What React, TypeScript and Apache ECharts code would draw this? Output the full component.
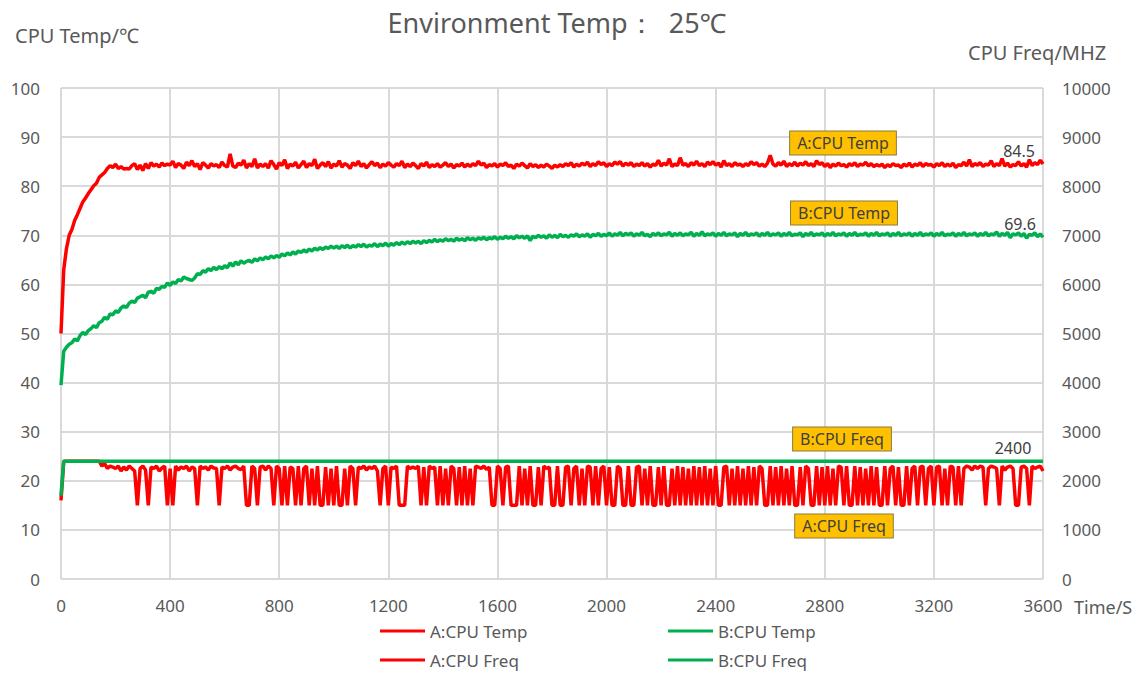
import React, { useEffect, useRef } from "react";
import * as echarts from "echarts";

// Sampling step of the recorded data, seconds
const SAMPLE_STEP = 10;

const xTicks = { min: 0, max: 3600, interval: 400 };

// A: CPU temperature (°C), every 10 s from 0 to 3600 s
const aTemp: number[] = [
  50, 63, 67.3, 70, 71.2, 73, 74.2, 75.5, 76.8, 77.6,
  78.5, 79.3, 80.1, 80.6, 81.8, 82.3, 82.8, 83.6, 84.2, 83.8,
  84.5, 83.6, 84.0, 83.5, 83.6, 83.5, 84.2, 84.6, 83.4, 84.3,
  83.2, 84.6, 83.6, 84.8, 84.1, 84.5, 83.9, 84.7, 84.2, 84.5,
  84.3, 85.1, 83.8, 84.6, 84.3, 83.6, 84.9, 84.2, 85.2, 84.0,
  84.6, 83.4, 84.8, 84.3, 83.7, 84.6, 84.1, 84.4, 83.8, 84.9,
  84.2, 83.9, 86.6, 84.1, 83.8, 84.7, 84.3, 85.3, 83.7, 84.6,
  84.0, 85.6, 83.7, 84.5, 84.0, 84.6, 83.7, 85.2, 84.4, 83.5,
  84.8, 84.2, 85.4, 83.6, 84.5, 84.1, 84.9, 83.7, 84.4, 85.1,
  83.8, 84.6, 84.2, 85.5, 83.6, 84.3, 84.8, 84.0, 85.0, 83.7,
  84.5, 84.1, 85.2, 83.9, 84.6, 84.3, 83.6, 84.8, 84.2, 85.1,
  84.0, 84.6, 83.7, 84.4, 85.0, 84.2, 84.7, 83.8, 84.5, 84.1,
  84.8, 84.3, 83.9, 84.6, 84.2, 85.1, 83.8, 84.5, 84.0, 84.7,
  84.2, 83.6, 84.6, 84.1, 84.9, 83.8, 84.4, 84.0, 84.6, 83.9,
  84.3, 84.8, 84.0, 84.5, 83.7, 84.4, 84.1, 84.7, 83.9, 84.5,
  84.0, 84.6, 84.2, 85.1, 84.3, 84.7, 83.8, 84.4, 84.1, 84.6,
  83.9, 84.5, 84.2, 84.8, 84.0, 84.3, 83.6, 84.5, 84.1, 84.7,
  84.2, 83.7, 84.6, 84.0, 84.4, 83.8, 84.3, 83.9, 84.5, 84.1,
  83.6, 84.3, 83.9, 84.4, 84.0, 84.6, 84.2, 84.8, 83.9, 84.5,
  84.1, 84.7, 84.3, 84.9, 84.0, 84.6, 84.2, 85.0, 84.4, 84.8,
  84.0, 84.6, 84.2, 84.9, 84.5, 85.0, 84.1, 84.7, 84.3, 84.8,
  84.0, 84.5, 84.2, 84.8, 84.1, 84.6, 83.9, 84.5, 84.2, 85.3,
  84.1, 84.7, 84.3, 85.6, 84.0, 84.5, 84.2, 85.8, 84.3, 84.6,
  84.0, 84.8, 84.3, 85.1, 84.2, 84.6, 84.0, 84.9, 84.4, 85.0,
  84.3, 84.7, 83.9, 85.2, 84.2, 84.6, 84.0, 84.8, 84.3, 84.5,
  84.0, 84.6, 84.2, 85.0, 84.4, 84.8, 84.1, 84.5, 84.0, 84.7,
  86.3, 84.5, 84.1, 84.8, 84.3, 85.1, 84.0, 84.6, 84.2, 84.9,
  84.1, 84.7, 84.3, 85.0, 84.2, 84.6, 84.0, 85.2, 84.4, 84.8,
  84.0, 84.6, 83.8, 84.5, 84.1, 84.7, 84.2, 84.4, 83.9, 84.6,
  84.2, 84.8, 84.0, 84.5, 84.3, 84.9, 84.1, 84.6, 84.0, 84.4,
  84.1, 84.5, 83.8, 84.4, 84.0, 84.6, 84.2, 84.3, 83.8, 84.5,
  84.1, 84.7, 83.9, 84.5, 84.2, 84.8, 84.0, 84.6, 84.3, 84.4,
  83.9, 84.6, 84.2, 84.8, 84.0, 84.5, 84.1, 84.7, 83.8, 84.4,
  84.2, 84.9, 84.1, 85.4, 84.0, 84.6, 84.3, 84.8, 84.0, 84.5,
  84.3, 85.2, 84.0, 84.6, 84.2, 85.6, 84.1, 84.7, 83.9, 84.4,
  84.2, 85.0, 84.1, 84.6, 83.9, 85.4, 84.2, 84.8, 84.4, 85.3,
  84.5,
];

// B: CPU temperature (°C), every 10 s from 0 to 3600 s
const bTemp: number[] = [
  39.5, 46.4, 47.2, 47.8, 48.1, 48.9, 48.5, 49.6, 50.2, 49.8,
  50.6, 51.0, 51.6, 51.2, 52.2, 52.5, 53.3, 52.9, 54.0, 53.8,
  54.6, 54.3, 55.2, 55.6, 55.3, 56.2, 56.6, 56.3, 57.2, 57.5,
  57.8, 57.3, 58.4, 58.6, 58.2, 59.2, 59.0, 59.6, 59.4, 60.3,
  59.8, 60.5, 60.2, 61.0, 60.7, 61.5, 61.2, 61.0, 60.8, 61.3,
  62.2, 62.0, 62.8, 62.5, 63.2, 62.8, 63.5, 63.0, 63.6, 63.2,
  63.8, 63.4, 64.4, 63.7, 64.6, 64.0, 64.8, 64.3, 64.7, 64.9,
  64.5, 65.2, 64.8, 65.4, 65.0, 65.6, 65.2, 65.8, 65.4, 65.9,
  65.5, 66.2, 65.8, 66.4, 66.0, 66.6, 66.2, 66.8, 66.5, 67.0,
  66.6, 67.2, 66.8, 67.4, 67.0, 67.5, 67.1, 67.6, 67.3, 67.8,
  67.4, 67.8, 67.3, 67.9, 67.5, 68.0, 67.4, 67.9, 67.6, 68.1,
  67.7, 68.2, 67.6, 68.0, 67.8, 68.3, 67.7, 68.2, 67.9, 68.4,
  67.8, 68.3, 68.0, 68.5, 68.1, 68.6, 68.2, 68.7, 68.3, 68.8,
  68.4, 68.8, 68.3, 68.9, 68.5, 69.0, 68.6, 69.2, 68.7, 69.1,
  68.8, 69.3, 68.9, 69.2, 68.8, 69.4, 69.0, 69.3, 68.9, 69.5,
  69.1, 69.4, 69.0, 69.5, 69.2, 69.6, 69.1, 69.5, 69.3, 69.7,
  69.2, 69.6, 69.3, 69.8, 69.4, 69.7, 69.3, 69.9, 69.5, 69.8,
  69.4, 69.9, 68.9, 69.8, 69.5, 70.0, 69.6, 69.9, 69.4, 70.1,
  69.6, 70.0, 69.5, 70.2, 69.7, 70.0, 69.6, 70.1, 69.8, 70.3,
  69.7, 70.1, 69.8, 70.3, 69.6, 70.2, 69.9, 70.4, 69.8, 70.2,
  69.9, 70.5, 69.8, 70.3, 70.0, 70.6, 69.9, 70.4, 70.1, 70.5,
  69.8, 70.3, 70.0, 70.6, 69.9, 70.2, 69.7, 70.4, 70.0, 70.5,
  69.9, 70.3, 70.1, 70.6, 69.8, 70.4, 70.0, 70.5, 69.9, 70.3,
  70.1, 70.6, 69.8, 70.4, 70.0, 70.7, 69.9, 70.3, 70.1, 70.5,
  69.8, 70.4, 70.0, 70.6, 69.9, 70.3, 70.1, 70.5, 69.7, 70.4,
  70.0, 70.6, 69.9, 70.3, 70.1, 70.5, 69.8, 70.4, 70.0, 70.6,
  69.9, 70.3, 70.1, 70.5, 69.8, 70.4, 70.0, 70.6, 69.9, 70.2,
  70.1, 70.5, 69.7, 70.4, 70.0, 70.6, 69.9, 70.3, 70.1, 70.5,
  69.8, 70.4, 70.0, 70.6, 69.9, 70.3, 70.1, 70.5, 69.8, 70.4,
  70.0, 70.6, 69.9, 70.2, 70.1, 70.5, 69.8, 70.4, 70.0, 70.6,
  69.9, 70.3, 70.1, 70.5, 69.8, 70.4, 70.0, 70.6, 69.9, 70.3,
  70.1, 70.5, 69.8, 70.4, 70.0, 70.6, 69.9, 70.3, 70.1, 70.5,
  69.8, 70.4, 70.0, 70.6, 69.9, 70.2, 70.1, 70.5, 69.8, 70.4,
  70.0, 70.6, 69.9, 70.3, 70.1, 70.5, 69.8, 70.4, 70.0, 70.6,
  69.9, 70.3, 70.1, 70.7, 69.8, 70.4, 70.0, 70.6, 69.5, 70.3,
  70.1, 70.5, 69.8, 70.4, 69.4, 70.2, 70.0, 70.5, 69.7, 70.3,
  69.6,
];

// A: CPU frequency (MHz), every 10 s from 0 to 3600 s
const aFreq: number[] = [
  1600, 2400, 2400, 2400, 2400, 2400, 2400, 2400, 2400, 2400,
  2400, 2400, 2400, 2400, 2400, 2300, 2350, 2250, 2300, 2280,
  2250, 2300, 2200, 2280, 2220, 2300, 2250, 2200, 1500, 2250,
  2300, 2220, 1500, 2280, 2250, 2300, 2200, 2260, 2300, 1500,
  2250, 1500, 2300, 2220, 2280, 2250, 2300, 2200, 2280, 2250,
  1500, 2300, 2250, 2280, 2220, 2300, 2260, 2250, 1500, 2280,
  2250, 2300, 2220, 2280, 2300, 2250, 2230, 2300, 1500, 1500,
  2300, 2250, 1500, 2280, 2300, 2220, 2300, 2250, 1500, 2300,
  2250, 1500, 2300, 1500, 2280, 2250, 1500, 2300, 1500, 2250,
  2300, 1500, 2250, 1500, 2300, 1500, 1500, 2280, 1500, 2250,
  1500, 2300, 1500, 1500, 2250, 1500, 2300, 2250, 1500, 2280,
  2250, 2300, 2220, 2280, 2250, 2300, 2200, 1500, 2250, 2300,
  1500, 2280, 2250, 2300, 1500, 1500, 1500, 2300, 2250, 2280,
  2250, 2300, 1500, 2280, 1500, 2300, 2250, 2280, 1500, 2300,
  1500, 2250, 1500, 2300, 2250, 1500, 2280, 1500, 2300, 1500,
  2250, 1500, 2300, 2280, 2250, 2300, 2230, 2280, 1500, 1500,
  2300, 2250, 1500, 2280, 2300, 1500, 1500, 1500, 2300, 1500,
  2250, 1500, 2300, 1500, 1500, 2280, 1500, 2300, 2250, 2280,
  1500, 1500, 2300, 1500, 1500, 2280, 2300, 1500, 2250, 2300,
  1500, 2250, 1500, 2300, 2280, 1500, 2300, 1500, 2250, 2300,
  1500, 2280, 1500, 1500, 2300, 2250, 1500, 1500, 2300, 1500,
  1500, 2280, 2300, 1500, 2250, 1500, 2300, 1500, 1500, 2280,
  1500, 2300, 1500, 1500, 2250, 1500, 2300, 1500, 2280, 1500,
  2250, 1500, 2300, 1500, 2280, 1500, 2300, 1500, 2250, 1500,
  2300, 1500, 1500, 2280, 2300, 1500, 2250, 1500, 2300, 1500,
  2250, 1500, 2300, 1500, 2280, 1500, 2300, 2250, 1500, 1500,
  2300, 1500, 2280, 1500, 2300, 1500, 2250, 1500, 2300, 1500,
  1500, 2280, 1500, 2300, 2250, 1500, 1500, 2300, 1500, 2280,
  1500, 2300, 1500, 2250, 1500, 2300, 2280, 1500, 2300, 1500,
  1500, 2300, 1500, 2280, 1500, 2250, 1500, 2300, 1500, 2280,
  1500, 1500, 2300, 1500, 2250, 2300, 1500, 2280, 1500, 1500,
  2300, 1500, 2250, 2300, 1500, 2280, 2300, 1500, 2250, 2300,
  1500, 2280, 2300, 1500, 2250, 1500, 2300, 2280, 1500, 2300,
  1500, 2250, 2300, 2280, 2220, 2300, 2250, 2300, 2280, 1500,
  2250, 2300, 2280, 2250, 1500, 2300, 2220, 2280, 2300, 2250,
  1500, 1500, 2280, 2300, 2250, 1500, 2300, 2250, 2280, 2300,
  2200,
];

// B: CPU frequency (MHz): fixed after start-up
const bFreqTimes: number[] = [0, 10, 3600];
const bFreq: number[] = [1700, 2400, 2400];

const seriesNames = ["A:CPU Temp", "B:CPU Temp", "A:CPU Freq", "B:CPU Freq"];
const RED = "#FF0000";
const GREEN = "#00B050";
const TEXT = "#595959";
const FONT = "'Noto Sans', 'Open Sans', sans-serif";

const pairs = (vals: number[]) => vals.map((v, i) => [i * SAMPLE_STEP, v]);
const plain = (v: number) => String(v);

const lastLabel = (t: number, v: number, offset: number[]) => ({
  symbol: "circle",
  symbolSize: 2,
  itemStyle: { color: "rgba(0,0,0,0)" },
  data: [{ coord: [t, v], value: v }],
  label: {
    show: true,
    position: "top",
    distance: 4,
    formatter: "{c}",
    color: "#404040",
    fontSize: 16,
    fontFamily: FONT,
    offset,
  },
});

const tag = (text: string, x: number, y: number) => ({
  type: "text",
  x,
  y,
  z: 10,
  style: {
    text,
    x: 0,
    y: 0,
    align: "center",
    verticalAlign: "middle",
    fill: "#404040",
    font: `16px ${FONT}`,
    backgroundColor: "#FFC000",
    borderColor: "#8C7A3A",
    borderWidth: 1,
    padding: [4, 7, 3, 7],
  },
});

export default function App() {
  const ref = useRef<HTMLDivElement>(null);

  useEffect(() => {
    document.body.style.margin = "0";
    const chart = echarts.init(ref.current!, null, { renderer: "svg" });
    const legendPos = [
      { left: 380, top: 621 },
      { left: 668, top: 621 },
      { left: 380, top: 650 },
      { left: 668, top: 650 },
    ];
    chart.setOption({
      animation: false,
      textStyle: { fontFamily: FONT },
      grid: { left: 61, right: 103, top: 88, bottom: 94, containLabel: false },
      legend: seriesNames.map((n, i) => ({
        data: [n],
        left: legendPos[i].left,
        top: legendPos[i].top,
        padding: 0,
        icon: "rect",
        itemWidth: 45,
        itemHeight: 3,
        itemGap: 5,
        selectedMode: false,
        textStyle: { fontSize: 17, lineHeight: 20, color: TEXT, fontFamily: FONT, padding: [0, 0, 0, 0] },
      })),
      xAxis: {
        type: "value",
        min: xTicks.min,
        max: xTicks.max,
        interval: xTicks.interval,
        axisLine: { show: false },
        axisTick: { show: false },
        axisLabel: { color: TEXT, fontSize: 17, margin: 18, fontFamily: FONT, formatter: plain },
        splitLine: { show: true, lineStyle: { color: "#D9D9D9", width: 2 } },
      },
      yAxis: [
        {
          type: "value",
          min: 0,
          max: 100,
          interval: 10,
          axisLine: { show: false },
          axisTick: { show: false },
          axisLabel: { color: TEXT, fontSize: 17, margin: 21, fontFamily: FONT, formatter: plain },
          splitLine: { show: true, lineStyle: { color: "#D9D9D9", width: 2 } },
        },
        {
          type: "value",
          min: 0,
          max: 10000,
          interval: 1000,
          axisLine: { show: false },
          axisTick: { show: false },
          axisLabel: { color: TEXT, fontSize: 17, margin: 19, fontFamily: FONT, formatter: plain },
          splitLine: { show: false },
        },
      ],
      series: [
        {
          name: seriesNames[0],
          type: "line",
          yAxisIndex: 0,
          data: pairs(aTemp),
          symbol: "none",
          lineStyle: { color: RED, width: 3.5 },
          itemStyle: { color: RED },
          z: 3,
          markPoint: lastLabel(3600, aTemp[aTemp.length - 1], [-24, 0]),
        },
        {
          name: seriesNames[1],
          type: "line",
          yAxisIndex: 0,
          data: pairs(bTemp),
          symbol: "none",
          lineStyle: { color: GREEN, width: 3.5 },
          itemStyle: { color: GREEN },
          z: 3,
          markPoint: lastLabel(3600, bTemp[bTemp.length - 1], [-23, 0]),
        },
        {
          name: seriesNames[2],
          type: "line",
          yAxisIndex: 1,
          data: pairs(aFreq),
          symbol: "none",
          lineStyle: { color: RED, width: 3.5 },
          itemStyle: { color: RED },
          z: 2,
        },
        {
          name: seriesNames[3],
          type: "line",
          yAxisIndex: 1,
          data: bFreqTimes.map((t, i) => [t, bFreq[i]]),
          symbol: "none",
          lineStyle: { color: GREEN, width: 3.5 },
          itemStyle: { color: GREEN },
          z: 4,
          markPoint: lastLabel(3600, bFreq[bFreq.length - 1], [-30, 0]),
        },
      ],
      graphic: [
        {
          type: "text",
          x: 557,
          y: 22,
          style: {
            text: "Environment Temp：  25℃",
            align: "center",
            verticalAlign: "middle",
            fill: TEXT,
            font: `27px ${FONT}`,
          },
        },
        {
          type: "text",
          x: 15,
          y: 35,
          style: { text: "CPU Temp/℃", verticalAlign: "middle", fill: TEXT, font: `20px ${FONT}` },
        },
        {
          type: "text",
          x: 968,
          y: 52,
          style: { text: "CPU Freq/MHZ", verticalAlign: "middle", fill: TEXT, font: `20px ${FONT}` },
        },
        {
          type: "text",
          x: 1074,
          y: 607,
          style: { text: "Time/S", verticalAlign: "middle", fill: TEXT, font: `18px ${FONT}` },
        },
        tag("A:CPU Temp", 843, 143),
        tag("B:CPU Temp", 844, 213),
        tag("B:CPU Freq", 842, 439),
        tag("A:CPU Freq", 844, 526),
      ],
    });
    return () => chart.dispose();
  }, []);

  return <div ref={ref} style={{ width: 1146, height: 673 }} />;
}
